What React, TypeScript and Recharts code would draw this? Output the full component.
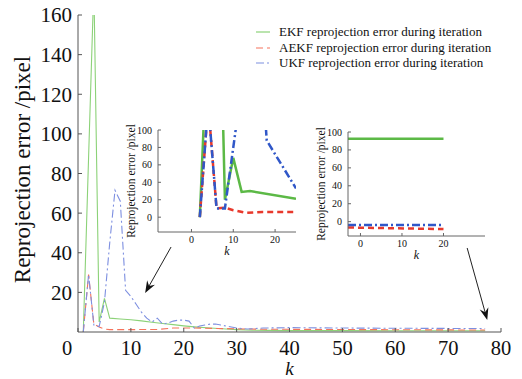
import React from 'react';
import { LineChart, Line, XAxis, YAxis, ReferenceLine, Legend, Label, CartesianGrid } from 'recharts';

const FONT = '"Liberation Serif", "Times New Roman", serif';
const serif = { fontFamily: FONT };

// ---- main panel: reprojection error per iteration k ----
const ekfK = [1, 2, 3, 4, 5, 6, 8, 10, 12, 14, 16, 18, 20, 22, 25, 28, 30, 33, 36, 40, 50, 60, 70, 77];
const ekfErr = [0, 88, 175, 5, 17, 7, 6.6, 6.2, 5.6, 4.9, 4.3, 3.7, 3.1, 2.6, 2.0, 1.5, 1.2, 0.9, 0.8, 0.7, 0.7, 0.6, 0.6, 0.6];

const aekfK = [1, 2, 3, 4, 5, 6, 10, 15, 18, 22, 26, 30, 35, 45, 55, 65, 77];
const aekfErr = [0, 29, 4, 2.5, 1.5, 1.2, 1.2, 1.3, 2, 2, 1.8, 1.6, 1.4, 1.3, 1.2, 1.1, 1];

const ukfK = [1, 2, 3, 4, 5, 6, 7, 8, 9, 10, 11, 12, 13, 14, 15, 16, 17, 18, 19, 20, 21, 22, 23, 24, 25, 26, 27, 28, 29, 30, 32, 35, 40, 50, 60, 70, 77];
const ukfErr = [0, 29, 3.5, 2.7, 15, 45, 71.5, 66, 21, 18, 14, 10, 7, 5, 7, 4, 4.5, 5.5, 6, 6, 5.5, 2, 3, 3.5, 4, 4, 3.5, 3, 2.5, 2, 1.5, 2, 2.2, 2, 1.9, 1.8, 1.8];

const mainXTicks = [0, 10, 20, 30, 40, 50, 60, 70, 80];
const mainYTicks = [20, 40, 60, 80, 100, 120, 140, 160];

// ---- inset A: early iterations ----
const insetAEkfK = [2, 3, 5, 7, 8, 10, 12, 14, 25];
const insetAEkfErr = [0, 115, 200, 220, 20, 68, 29, 30, 21];
const insetAAekfK = [2, 4, 6, 8, 10, 13, 17, 25];
const insetAAekfErr = [0, 130, 10, 11, 8, 5, 6, 6];
const insetAUkfK = [2, 4, 6, 8, 11, 17, 18, 25];
const insetAUkfErr = [0, 130, 10, 10, 115, 160, 88, 33];

// ---- inset B: late iterations ----
const insetBEkfK = [-3, 20];
const insetBEkfErr = [92.5, 92.5];
const insetBAekfK = [-3, 20];
const insetBAekfErr = [-6.5, -8.3];
const insetBUkfK = [-3, 20];
const insetBUkfErr = [-3.8, -3.8];

const insetXTicks = [0, 10, 20];
const insetYTicks = [0, 20, 40, 60, 80, 100];

// arrows pointing from the insets to the regions they magnify
const arrowA = { from: [17.6, 42.9], to: [12.7, 19.7] };
const arrowB = { from: [73.6, 42.4], to: [77.4, 6.1] };

const seriesNames = [
  'EKF reprojection error during iteration',
  'AEKF reprojection error during iteration',
  'UKF reprojection error during iteration',
];

const thin = { ekf: '#8cd278', aekf: '#f5735c', ukf: '#7d8fe0' };
const bold = { ekf: '#5cb946', aekf: '#e8392c', ukf: '#3057c8' };
const dashes = { aekf: '7 4', ukf: '8 3 2 3' };

const zip = (ks: number[], vs: number[]) => ks.map((k, i) => ({ k, v: vs[i] }));

// tick renderers (serif numerals)
const makeXTick = (size: number, zeroShift: number) => (props: any) => {
  const { x, y, payload } = props;
  const shift = payload.value === 0 ? zeroShift : 0;
  return (
    <text x={x + shift} y={y} dy="0.71em" textAnchor="middle" fontFamily={FONT} style={serif} fontSize={size} fill="#111">
      {payload.value}
    </text>
  );
};

const makeYTick = (size: number) => (props: any) => {
  const { x, y, payload } = props;
  return (
    <text x={x} y={y} dy="0.355em" textAnchor="end" fontFamily={FONT} style={serif} fontSize={size} fill="#111">
      {payload.value}
    </text>
  );
};

const MainXTick = makeXTick(20.5, -11);
const MainYTick = makeYTick(21);
const InsetXTick = makeXTick(10, 0);
const InsetYTick = makeYTick(10);

const Arrow = (props: any) => {
  const { x1, y1, x2, y2 } = props;
  const ang = Math.atan2(y2 - y1, x2 - x1);
  const c = Math.cos(ang);
  const s = Math.sin(ang);
  const len = 12;
  const half = 4.5;
  const bx = x2 - len * c;
  const by = y2 - len * s;
  const nx = x2 - 8 * c;
  const ny = y2 - 8 * s;
  const pts = `${x2},${y2} ${bx - half * s},${by + half * c} ${nx},${ny} ${bx + half * s},${by - half * c}`;
  return (
    <g>
      <line x1={x1} y1={y1} x2={nx} y2={ny} stroke="#222" strokeWidth={1} />
      <polygon points={pts} fill="#111" />
    </g>
  );
};

const LegendBox = () => {
  const styles = [
    { color: thin.ekf, dash: undefined },
    { color: thin.aekf, dash: dashes.aekf },
    { color: thin.ukf, dash: dashes.ukf },
  ];
  return (
    <div style={{ fontFamily: FONT, fontSize: 13, lineHeight: '15.7px', color: '#111', whiteSpace: 'nowrap' }}>
      {seriesNames.map((name, i) => (
        <div key={name} style={{ display: 'flex', alignItems: 'center' }}>
          <svg width={18} height={10} style={{ marginRight: 8 }}>
            <line x1={3} y1={5} x2={17} y2={5} stroke={styles[i].color} strokeWidth={1.2} strokeDasharray={styles[i].dash} />
          </svg>
          <span>{name}</span>
        </div>
      ))}
    </div>
  );
};

type InsetProps = {
  left: number;
  top: number;
  width: number;
  height: number;
  xDomain: [number, number];
  yDomain: [number, number];
  ekf: { k: number; v: number }[];
  aekf: { k: number; v: number }[];
  ukf: { k: number; v: number }[];
};

const Inset = ({ left, top, width, height, xDomain, yDomain, ekf, aekf, ukf }: InsetProps) => (
  <div style={{ position: 'absolute', left, top }}>
    <LineChart width={width} height={height} margin={{ top: 12, right: 4, bottom: 0, left: 0 }}>
      <CartesianGrid horizontal={false} vertical={false} fill="#fff" fillOpacity={1} />
      <XAxis
        dataKey="k"
        type="number"
        domain={xDomain}
        ticks={insetXTicks}
        interval={0}
        allowDataOverflow
        height={28}
        axisLine={{ stroke: '#666' }}
        tickLine={{ stroke: '#666' }}
        tickSize={-3}
        tickMargin={7}
        tick={<InsetXTick />}
      >
        <Label
          content={(p: any) => (
            <text
              x={p.viewBox.x + p.viewBox.width / 2}
              y={p.viewBox.y + 23}
              textAnchor="middle"
              fontFamily={FONT}
              style={serif}
              fontStyle="italic"
              fontSize={12}
              fill="#111"
            >
              k
            </text>
          )}
        />
      </XAxis>
      <XAxis xAxisId="top" orientation="top" dataKey="k" type="number" domain={xDomain} height={0} tick={false} tickLine={false} axisLine={{ stroke: '#666' }} />
      <YAxis
        type="number"
        domain={yDomain}
        ticks={insetYTicks}
        interval={0}
        allowDataOverflow
        width={58}
        axisLine={{ stroke: '#666' }}
        tickLine={{ stroke: '#666' }}
        tickSize={-3}
        tickMargin={9}
        tick={<InsetYTick />}
      >
        <Label
          content={(p: any) => {
            const cx = p.viewBox.x + 31;
            const cy = p.viewBox.y + p.viewBox.height / 2;
            return (
              <text
                x={cx}
                y={cy}
                transform={`rotate(-90 ${cx} ${cy})`}
                textAnchor="middle"
                dominantBaseline="central"
                fontFamily={FONT}
                style={serif}
                fontSize={11.5}
                fill="#111"
              >
                Reprojection error /pixel
              </text>
            );
          }}
        />
      </YAxis>
      <YAxis yAxisId="right" orientation="right" type="number" domain={yDomain} width={0} tick={false} tickLine={false} axisLine={{ stroke: '#666' }} />
      <Line data={ekf} dataKey="v" stroke={bold.ekf} strokeWidth={2.5} dot={false} isAnimationActive={false} />
      <Line data={aekf} dataKey="v" stroke={bold.aekf} strokeWidth={2.5} strokeDasharray="6 4" dot={false} isAnimationActive={false} />
      <Line data={ukf} dataKey="v" stroke={bold.ukf} strokeWidth={2.5} strokeDasharray="8 3 2 3" dot={false} isAnimationActive={false} />
    </LineChart>
  </div>
);

export default function App() {
  return (
    <div style={{ position: 'absolute', left: 0, top: 0, width: 522, height: 379, background: '#fff' }}>
      <LineChart width={522} height={379} margin={{ top: 15, right: 21, bottom: 0, left: 0 }}>
        <XAxis
          dataKey="k"
          type="number"
          domain={[0, 80]}
          ticks={mainXTicks}
          interval={0}
          allowDataOverflow
          height={47}
          axisLine={{ stroke: '#555' }}
          tickLine={{ stroke: '#555' }}
          tickSize={-4}
          tickMargin={12}
          tick={<MainXTick />}
        >
          <Label
            content={(p: any) => (
              <text
                x={p.viewBox.x + p.viewBox.width / 2}
                y={p.viewBox.y + 42.5}
                textAnchor="middle"
                fontFamily={FONT}
                style={serif}
                fontStyle="italic"
                fontSize={19}
                fill="#111"
              >
                k
              </text>
            )}
          />
        </XAxis>
        <XAxis xAxisId="top" orientation="top" dataKey="k" type="number" domain={[0, 80]} height={0} tick={false} tickLine={false} axisLine={{ stroke: '#555' }} />
        <YAxis
          type="number"
          domain={[0, 160]}
          ticks={mainYTicks}
          interval={0}
          allowDataOverflow
          width={78}
          axisLine={{ stroke: '#555' }}
          tickLine={{ stroke: '#555' }}
          tickSize={-4}
          tickMargin={10}
          tick={<MainYTick />}
        >
          <Label
            content={(p: any) => {
              const cx = p.viewBox.x + 22;
              const cy = p.viewBox.y + p.viewBox.height / 2 - 4;
              return (
                <text
                  x={cx}
                  y={cy}
                  transform={`rotate(-90 ${cx} ${cy})`}
                  textAnchor="middle"
                  dominantBaseline="central"
                  fontFamily={FONT}
                  style={serif}
                  fontSize={23}
                  fill="#111"
                >
                  Reprojection error /pixel
                </text>
              );
            }}
          />
        </YAxis>
        <YAxis yAxisId="right" orientation="right" type="number" domain={[0, 160]} width={0} tick={false} tickLine={false} axisLine={{ stroke: '#555' }} />
        <Line data={zip(ekfK, ekfErr)} dataKey="v" name={seriesNames[0]} stroke={thin.ekf} strokeWidth={1.1} dot={false} isAnimationActive={false} />
        <Line data={zip(aekfK, aekfErr)} dataKey="v" name={seriesNames[1]} stroke={thin.aekf} strokeWidth={1.1} strokeDasharray={dashes.aekf} dot={false} isAnimationActive={false} />
        <Line data={zip(ukfK, ukfErr)} dataKey="v" name={seriesNames[2]} stroke={thin.ukf} strokeWidth={1.1} strokeDasharray={dashes.ukf} dot={false} isAnimationActive={false} />
        <ReferenceLine
          segment={[{ x: arrowA.from[0], y: arrowA.from[1] }, { x: arrowA.to[0], y: arrowA.to[1] }]}
          shape={Arrow}
          ifOverflow="visible"
        />
        <ReferenceLine
          segment={[{ x: arrowB.from[0], y: arrowB.from[1] }, { x: arrowB.to[0], y: arrowB.to[1] }]}
          shape={Arrow}
          ifOverflow="visible"
        />
        <Legend
          layout="vertical"
          align="center"
          verticalAlign="middle"
          wrapperStyle={{ left: 253, top: 24, width: 'auto' }}
          content={() => <LegendBox />}
        />
      </LineChart>
      <Inset
        left={100}
        top={118}
        width={200}
        height={142}
        xDomain={[-8, 25]}
        yDomain={[-17, 100]}
        ekf={zip(insetAEkfK, insetAEkfErr)}
        aekf={zip(insetAAekfK, insetAAekfErr)}
        ukf={zip(insetAUkfK, insetAUkfErr)}
      />
      <Inset
        left={290}
        top={120}
        width={199}
        height={144}
        xDomain={[-3, 30]}
        yDomain={[-16, 100]}
        ekf={zip(insetBEkfK, insetBEkfErr)}
        aekf={zip(insetBAekfK, insetBAekfErr)}
        ukf={zip(insetBUkfK, insetBUkfErr)}
      />
    </div>
  );
}
